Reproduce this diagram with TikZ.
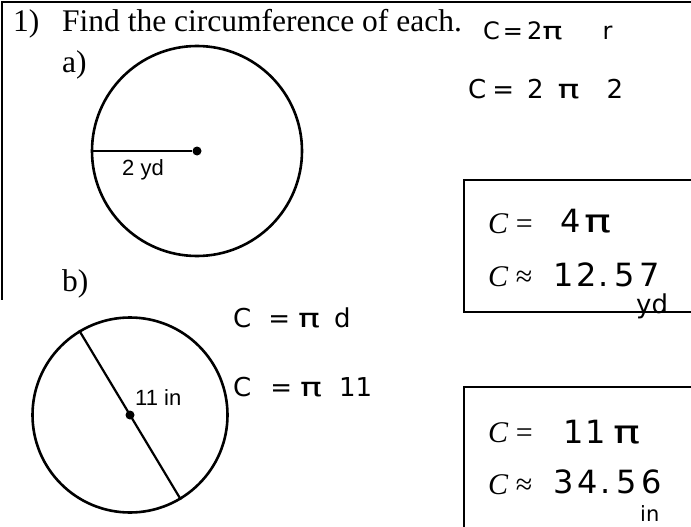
\documentclass[tikz,border=0pt]{standalone}
\usepackage{fontspec}
\setmainfont{Liberation Serif}
\newfontfamily\labelfont{Liberation Sans}
\newfontfamily\handfont{DejaVu Sans}
\newcommand{\handpi}{\scalebox{1.4}[1]{π}}
\begin{document}
\begin{tikzpicture}[x=1pt,y=-1pt,
  printed/.style={inner sep=0pt,anchor=base west,font=\fontsize{31.5}{36}\selectfont},
  boxtext/.style={inner sep=0pt,anchor=base west,font=\fontsize{30}{34}\selectfont},
  hand/.style={inner sep=0pt,anchor=base west,font=\handfont\fontsize{#1}{#1}\selectfont},
  hand/.default=26,
  meas/.style={inner sep=0pt,anchor=base west,font=\labelfont\fontsize{22}{26}\selectfont},
  ring/.style={circle,draw,line width=2.6pt,inner sep=0pt},
  dot/.style={circle,fill,inner sep=0pt,minimum size=9pt},
  frame/.style={line width=1.5pt}]
\useasboundingbox (0,0) rectangle (691,527);
% outer frame
\draw[frame] (691,2) -- (2,2) -- (2,300);
% answer boxes
\draw[frame] (691,180) -- (464,180) -- (464,312) -- (691,312);
\draw[frame] (691,387) -- (464,387) -- (464,527);
% heading
\node[printed] (q1) at (13,32) {1)};
\node[printed] (title) at (62,32) {Find the circumference of each.};
\node[printed] (qa) at (62,73) {a)};
\node[printed] (qb) at (62,291) {b)};
% circle a
\node[ring,minimum size=210pt] (ca) at (197,151) {};
\node[dot] (ca0) at (197,151) {};
\draw[line width=2.2pt] (ca.west) -- (ca0);
\node[meas] (la) at (122,175) {2 yd};
% circle b
\node[ring,minimum size=195pt] (cb) at (130,415) {};
\node[dot] (cb0) at (130,415) {};
\draw[line width=2.2pt] (cb.121) -- (cb.-59);
\node[meas] (lb) at (135,405) {11 in};
% handwriting
\node[hand=24] (h1) at (483,40) {C\hspace{3pt}=\hspace{4pt}2\handpi\hspace{40pt}r};
\node[hand] (h2) at (468,99) {C\hspace{6pt}=\hspace{13pt}2\hspace{14pt}\handpi\hspace{27pt}2};
\node[hand] (h3) at (233,327) {C\hspace{17pt}=\hspace{8pt}\handpi\hspace{14pt}d};
\node[hand] (h4) at (233,396) {C\hspace{19pt}=\hspace{8pt}\handpi\hspace{17pt}11};
% box a
\node[boxtext] (ba1) at (488,233) {\textit{C} =};
\node[hand=32] (ba2) at (560,232) {4\hspace{4pt}\handpi};
\node[boxtext] (ba3) at (488,286) {\textit{C} ≈};
\node[hand=32] (ba4) at (553,286) {1\hspace{3pt}2\hspace{2pt}.\hspace{5pt}5\hspace{5pt}7};
\node[hand] (ba5) at (636,313) {yd};
% box b
\node[boxtext] (bb1) at (488,442) {\textit{C} =};
\node[hand=32] (bb2) at (563,443) {1\hspace{2pt}1\hspace{8pt}\handpi};
\node[boxtext] (bb3) at (488,494) {\textit{C} ≈};
\node[hand=32] (bb4) at (553,493) {3\hspace{4pt}4\hspace{3pt}.\hspace{5pt}5\hspace{5pt}6};
\node[hand=21] (bb5) at (640,521) {in};
\end{tikzpicture}
\end{document}
